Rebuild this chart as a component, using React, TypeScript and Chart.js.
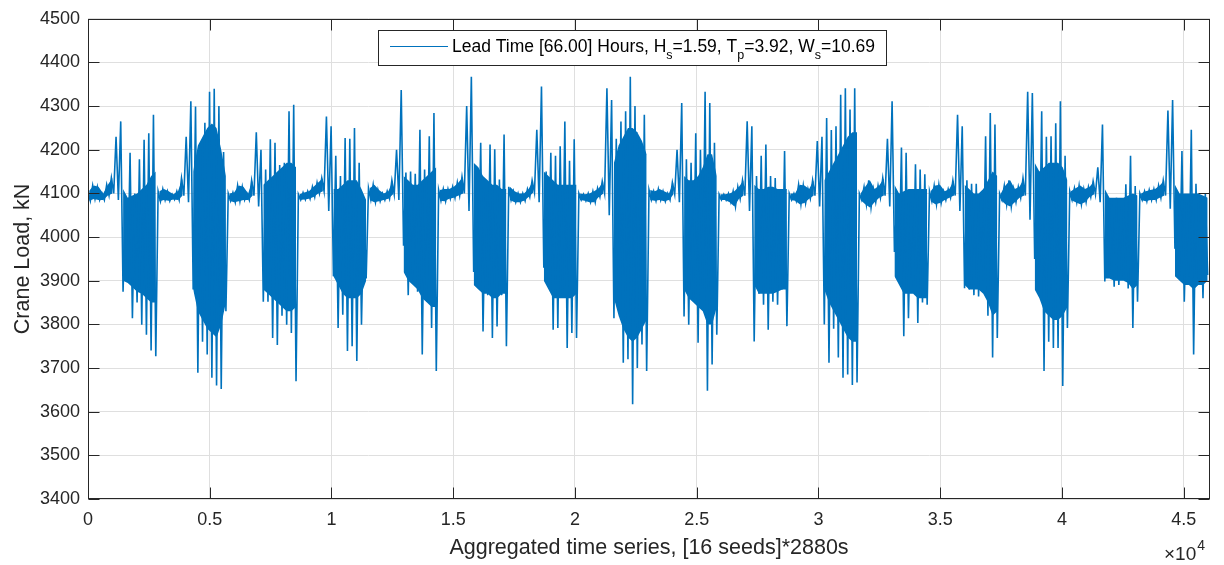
import React, { useEffect, useRef } from "react";
import { Chart, registerables } from "chart.js";

Chart.register(...registerables);

// ---- data ----
// The signal is 16 seeds x 2880 s. Each seed is summarised by 15 bins (192 s wide);
// for every bin the upper and lower extent of the load trace (kN) is stored.
const BIN_WIDTH = 192;
const BINS_PER_SEED = 15;
const SEEDS = 16;
const X_MAX = 46080;

const hiEnvelope: number[] = [
  // seed 1
  4106, 4118, 4115, 4100, 4120, 4136, 4230, 4265, 4075, 4193, 4100, 4178, 4223, 4238, 4280,
  // seed 2
  4105, 4110, 4105, 4098, 4105, 4135, 4230, 4311, 4299, 4215, 4262, 4333, 4340, 4300, 4195,
  // seed 3
  4100, 4102, 4118, 4115, 4100, 4130, 4240, 4200, 4155, 4224, 4216, 4165, 4170, 4288, 4303,
  // seed 4
  4098, 4102, 4105, 4115, 4125, 4135, 4276, 4254, 4186, 4140, 4227, 4225, 4250, 4170, 4072,
  // seed 5
  4112, 4120, 4108, 4100, 4105, 4130, 4200, 4337, 4148, 4150, 4145, 4246, 4155, 4231, 4284,
  // seed 6
  4108, 4110, 4110, 4115, 4125, 4138, 4300, 4367, 4110, 4216, 4102, 4212, 4201, 4132, 4235,
  // seed 7
  4115, 4105, 4100, 4100, 4110, 4130, 4246, 4345, 4150, 4193, 4186, 4208, 4265, 4175, 4224,
  // seed 8
  4100, 4098, 4100, 4105, 4112, 4128, 4341, 4314, 4225, 4265, 4288, 4367, 4300, 4220, 4280,
  // seed 9
  4108, 4105, 4110, 4105, 4100, 4125, 4200, 4307, 4178, 4170, 4238, 4200, 4333, 4307, 4216,
  // seed 10
  4098, 4098, 4100, 4105, 4115, 4130, 4265, 4254, 4140, 4186, 4212, 4140, 4135, 4100, 4197,
  // seed 11
  4100, 4100, 4120, 4118, 4110, 4130, 4220, 4230, 4273, 4245, 4254, 4326, 4341, 4292, 4341,
  // seed 12
  4100, 4115, 4130, 4110, 4118, 4135, 4225, 4311, 4075, 4205, 4193, 4080, 4167, 4155, 4144,
  // seed 13
  4105, 4118, 4120, 4105, 4110, 4130, 4280, 4254, 4130, 4122, 4122, 4100, 4231, 4284, 4258,
  // seed 14
  4100, 4118, 4130, 4110, 4115, 4135, 4333, 4330, 4090, 4288, 4230, 4231, 4261, 4311, 4186,
  // seed 15
  4105, 4112, 4118, 4110, 4115, 4128, 4160, 4258, 4095, 4087, 4090, 4075, 4121, 4186, 4117,
  // seed 16
  4100, 4105, 4108, 4110, 4118, 4130, 4290, 4314, 4100, 4197, 4080, 4246, 4122, 4095, 4100,
];

const loEnvelope: number[] = [
  // seed 1
  4083, 4087, 4085, 4085, 4095, 4100, 4085, 3875, 3900, 3814, 3850, 3799, 3776, 3740, 3727,
  // seed 2
  4082, 4085, 4083, 4086, 4085, 4095, 4080, 3880, 3689, 3760, 3731, 3678, 3660, 3652, 3830,
  // seed 3
  4083, 4080, 4082, 4085, 4085, 4095, 4070, 3852, 3852, 3769, 3753, 3820, 3799, 3780, 3670,
  // seed 4
  4085, 4086, 4088, 4092, 4100, 4105, 4060, 3910, 3792, 3822, 3739, 3750, 3716, 3799, 3905,
  // seed 5
  4085, 4080, 4082, 4085, 4088, 4098, 4085, 3980, 3867, 3900, 3875, 3731, 3852, 3792, 3693,
  // seed 6
  4083, 4082, 4088, 4090, 4095, 4100, 4060, 3920, 3900, 3784, 3867, 3769, 3795, 3867, 3750,
  // seed 7
  4085, 4080, 4080, 4083, 4092, 4102, 4080, 3930, 3900, 3788, 3792, 3870, 3746, 3780, 3769,
  // seed 8
  4085, 4083, 4080, 4080, 4092, 4100, 4050, 3814, 3850, 3712, 3720, 3617, 3700, 3754, 3693,
  // seed 9
  4085, 4083, 4085, 4082, 4085, 4098, 4080, 3818, 3799, 3860, 3758, 3880, 3648, 3708, 3776,
  // seed 10
  4085, 4085, 4080, 4070, 4088, 4095, 4060, 3761, 3870, 3845, 3788, 3852, 3845, 3880, 3796,
  // seed 11
  4085, 4083, 4075, 4078, 4088, 4095, 4070, 3800, 3712, 3790, 3724, 3678, 3685, 3661, 3667,
  // seed 12
  4085, 4075, 4068, 4080, 4090, 4095, 4070, 3966, 3930, 3773, 3814, 3875, 3803, 3850, 3845,
  // seed 13
  4082, 4075, 4078, 4085, 4090, 4095, 4060, 3883, 3880, 3867, 3864, 3900, 3820, 3724, 3769,
  // seed 14
  4085, 4075, 4070, 4080, 4090, 4095, 4040, 3950, 3920, 3693, 3760, 3746, 3746, 3659, 3792,
  // seed 15
  4085, 4080, 4075, 4080, 4092, 4098, 4080, 3898, 3913, 3886, 3890, 3905, 3882, 3792, 3852,
  // seed 16
  4085, 4082, 4085, 4085, 4090, 4095, 4065, 3973, 3910, 3852, 3910, 3731, 3905, 3860, 3913,
];

// Dense core of each burst (the last 8 bins of every seed): the band that the trace
// fills (almost) solidly in the picture.
const BURST_FIRST_BIN = 7;
const BURST_BINS = 8;
const coreHi: number[] = [
  4110, 4090, 4095, 4100, 4110, 4120, 4140, 4150, // seed 1
  4150, 4210, 4230, 4250, 4260, 4250, 4200, 4140, // seed 2
  4120, 4130, 4140, 4150, 4160, 4170, 4170, 4160, // seed 3
  4110, 4110, 4120, 4130, 4130, 4130, 4110, 4085, // seed 4
  4140, 4130, 4120, 4120, 4130, 4140, 4150, 4160, // seed 5
  4170, 4160, 4140, 4130, 4120, 4120, 4110, 4110, // seed 6
  4150, 4140, 4130, 4120, 4120, 4120, 4120, 4120, // seed 7
  4170, 4210, 4230, 4250, 4250, 4240, 4220, 4190, // seed 8
  4140, 4130, 4130, 4140, 4160, 4190, 4190, 4140, // seed 9
  4120, 4110, 4110, 4115, 4115, 4110, 4110, 4110, // seed 10
  4130, 4150, 4170, 4190, 4210, 4230, 4240, 4240, // seed 11
  4120, 4100, 4105, 4110, 4110, 4110, 4110, 4110, // seed 12
  4120, 4110, 4100, 4100, 4110, 4130, 4150, 4140, // seed 13
  4170, 4150, 4160, 4170, 4170, 4170, 4160, 4130, // seed 14
  4110, 4090, 4090, 4090, 4090, 4095, 4100, 4095, // seed 15
  4120, 4100, 4100, 4100, 4100, 4100, 4095, 4090, // seed 16
];
const coreLo: number[] = [
  3900, 3895, 3885, 3875, 3870, 3860, 3850, 3850, // seed 1
  3880, 3830, 3810, 3790, 3780, 3770, 3800, 3850, // seed 2
  3880, 3870, 3860, 3850, 3840, 3830, 3830, 3840, // seed 3
  3910, 3890, 3870, 3860, 3860, 3860, 3870, 3900, // seed 4
  3920, 3900, 3890, 3880, 3860, 3850, 3840, 3840, // seed 5
  3890, 3880, 3870, 3870, 3860, 3860, 3870, 3870, // seed 6
  3900, 3880, 3860, 3860, 3860, 3860, 3860, 3870, // seed 7
  3860, 3820, 3790, 3770, 3760, 3770, 3790, 3810, // seed 8
  3880, 3860, 3850, 3840, 3830, 3800, 3800, 3840, // seed 9
  3890, 3870, 3870, 3870, 3870, 3875, 3880, 3880, // seed 10
  3880, 3850, 3830, 3810, 3790, 3770, 3760, 3760, // seed 11
  3910, 3890, 3870, 3870, 3870, 3860, 3860, 3860, // seed 12
  3890, 3880, 3880, 3880, 3870, 3850, 3820, 3830, // seed 13
  3880, 3860, 3830, 3820, 3810, 3810, 3820, 3840, // seed 14
  3905, 3905, 3900, 3900, 3900, 3895, 3880, 3890, // seed 15
  3910, 3900, 3890, 3890, 3880, 3890, 3890, 3900, // seed 16
];

const xTickValues = [0, 5000, 10000, 15000, 20000, 25000, 30000, 35000, 40000, 45000];
const yTickValues = [3400, 3500, 3600, 3700, 3800, 3900, 4000, 4100, 4200, 4300, 4400, 4500];

const xTitle = "Aggregated time series, [16 seeds]*2880s";
const yTitle = "Crane Load, kN";
const exponentBase = "×10";
const exponentPower = "4";

// legend text: [text, isSubscript]
const legendSegments: [string, boolean][] = [
  ["Lead Time [66.00] Hours, H", false],
  ["s", true],
  ["=1.59, T", false],
  ["p", true],
  ["=3.92, W", false],
  ["s", true],
  ["=10.69", false],
];

const LINE_COLOR = "#0072BD";
const AXIS_COLOR = "#262626";
const GRID_COLOR = "#dfdfdf";
const FONT = "'Liberation Sans', Arial, Helvetica, sans-serif";

const decorPlugin = {
  id: "matlabDecor",
  afterDraw(chart: any) {
    const { ctx, chartArea, scales } = chart;
    const { left, right, top, bottom } = chartArea;
    const xs = scales.x;
    const ys = scales.y;
    const L = Math.round(left) + 0.5;
    const R = Math.round(right) - 0.5;
    const T = Math.round(top) + 0.5;
    const B = Math.round(bottom) - 0.5;
    const tick = 11;
    ctx.save();
    ctx.strokeStyle = AXIS_COLOR;
    ctx.lineWidth = 1;
    ctx.beginPath();
    for (const v of yTickValues) {
      const py = Math.round(ys.getPixelForValue(v)) + 0.5;
      ctx.moveTo(L, py);
      ctx.lineTo(L + tick, py);
      ctx.moveTo(R, py);
      ctx.lineTo(R - tick, py);
    }
    for (const v of xTickValues) {
      const px = Math.round(xs.getPixelForValue(v)) + 0.5;
      ctx.moveTo(px, B);
      ctx.lineTo(px, B - tick);
      ctx.moveTo(px, T);
      ctx.lineTo(px, T + tick);
    }
    ctx.stroke();
    ctx.strokeRect(L, T, R - L, B - T);

    // legend box
    const bx = 378.5, by = 30.5, bw = 508, bh = 35;
    ctx.fillStyle = "#ffffff";
    ctx.fillRect(bx, by, bw, bh);
    ctx.strokeStyle = AXIS_COLOR;
    ctx.strokeRect(bx, by, bw, bh);
    ctx.strokeStyle = LINE_COLOR;
    ctx.lineWidth = 1.2;
    ctx.beginPath();
    ctx.moveTo(390, 46.5);
    ctx.lineTo(448, 46.5);
    ctx.stroke();
    let tx = 452;
    ctx.fillStyle = "#000000";
    ctx.textBaseline = "alphabetic";
    ctx.textAlign = "left";
    for (const [text, sub] of legendSegments) {
      ctx.font = sub ? `12.5px ${FONT}` : `17.5px ${FONT}`;
      ctx.fillText(text, tx, sub ? 59 : 52);
      tx += ctx.measureText(text).width;
    }

    // x10^4 exponent label
    ctx.fillStyle = AXIS_COLOR;
    ctx.font = `19px ${FONT}`;
    ctx.fillText(exponentBase, 1164, 560);
    const w = ctx.measureText(exponentBase).width;
    ctx.font = `14px ${FONT}`;
    ctx.fillText(exponentPower, 1164 + w + 1, 550);
    ctx.restore();
  },
};

type Pt = { x: number; y: number };

function bandPair(name: string, upper: Pt[], lower: Pt[], fillColor: string) {
  return [
    {
      label: `${name}-upper`,
      data: upper,
      borderWidth: 0,
      borderColor: "rgba(0,0,0,0)",
      pointRadius: 0,
      fill: false,
      tension: 0,
    },
    {
      label: `${name}-lower`,
      data: lower,
      borderWidth: 0,
      borderColor: "rgba(0,0,0,0)",
      backgroundColor: fillColor,
      pointRadius: 0,
      fill: "-1",
      tension: 0,
    },
  ];
}

export default function App() {
  const canvasRef = useRef<HTMLCanvasElement | null>(null);

  useEffect(() => {
    const canvas = canvasRef.current;
    if (!canvas) return;

    // the trace: alternating upper/lower extent within each bin
    const points: Pt[] = [];
    hiEnvelope.forEach((h, i) => {
      points.push({ x: i * BIN_WIDTH, y: h });
      points.push({ x: i * BIN_WIDTH + BIN_WIDTH / 2, y: loEnvelope[i] });
    });

    const datasets: any[] = [
      {
        label: "load",
        data: points,
        borderColor: LINE_COLOR,
        borderWidth: 1.6,
        pointRadius: 0,
        fill: false,
        tension: 0,
      },
    ];

    for (let s = 0; s < SEEDS; s++) {
      const first = s * BINS_PER_SEED;
      // quiet part of the seed: the narrow band is drawn solid
      const qUp: Pt[] = [];
      const qDn: Pt[] = [];
      for (let b = 0; b < BURST_FIRST_BIN - 1; b++) {
        const i = first + b;
        const x = i * BIN_WIDTH + BIN_WIDTH / 4;
        qUp.push({ x, y: hiEnvelope[i] });
        qDn.push({ x, y: loEnvelope[i] });
      }
      datasets.push(...bandPair(`quiet-${s}`, qUp, qDn, LINE_COLOR));

      // burst core: solid
      const cUp: Pt[] = [];
      const cDn: Pt[] = [];
      for (let k = 0; k < BURST_BINS; k++) {
        const i = first + BURST_FIRST_BIN + k;
        const x = i * BIN_WIDTH + BIN_WIDTH / 2;
        cUp.push({ x, y: coreHi[s * BURST_BINS + k] });
        cDn.push({ x, y: coreLo[s * BURST_BINS + k] });
      }
      datasets.push(...bandPair(`core-${s}`, cUp, cDn, LINE_COLOR));
    }

    const chart = new Chart(canvas, {
      type: "line",
      data: { datasets },
      options: {
        animation: false,
        responsive: false,
        devicePixelRatio: 1,
        parsing: false as any,
        normalized: true,
        layout: { padding: { left: 0, right: 14, top: 15, bottom: 0 } },
        plugins: {
          legend: { display: false },
          tooltip: { enabled: false },
          filler: { propagate: false },
        },
        scales: {
          x: {
            type: "linear",
            min: 0,
            max: X_MAX,
            afterBuildTicks: (s: any) => {
              s.ticks = xTickValues.map((v) => ({ value: v }));
            },
            afterFit: (s: any) => {
              s.height = 66;
            },
            ticks: {
              autoSkip: false,
              maxRotation: 0,
              padding: 10,
              color: AXIS_COLOR,
              font: { family: FONT, size: 18 },
              callback: (v: any) => String(Number(v) / 10000),
            },
            grid: { color: GRID_COLOR, lineWidth: 1, drawTicks: false },
            border: { display: false },
            title: {
              display: true,
              text: xTitle,
              color: AXIS_COLOR,
              font: { family: FONT, size: 21.5 },
              padding: { top: 0, bottom: 4 },
            },
          },
          y: {
            type: "linear",
            min: 3400,
            max: 4500,
            afterBuildTicks: (s: any) => {
              s.ticks = yTickValues.map((v) => ({ value: v }));
            },
            afterFit: (s: any) => {
              s.width = 88;
            },
            ticks: {
              autoSkip: false,
              padding: 8,
              color: AXIS_COLOR,
              font: { family: FONT, size: 18 },
              callback: (v: any) => String(v),
            },
            grid: { color: GRID_COLOR, lineWidth: 1, drawTicks: false },
            border: { display: false },
            title: {
              display: true,
              text: yTitle,
              color: AXIS_COLOR,
              font: { family: FONT, size: 21.5 },
              padding: { top: 10, bottom: 0 },
            },
          },
        },
      },
      plugins: [decorPlugin],
    });
    return () => chart.destroy();
  }, []);

  return (
    <div
      style={{
        position: "fixed",
        left: 0,
        top: 0,
        width: 1224,
        height: 565,
        background: "#ffffff",
      }}
    >
      <canvas ref={canvasRef} width={1224} height={565} style={{ display: "block" }} />
    </div>
  );
}
